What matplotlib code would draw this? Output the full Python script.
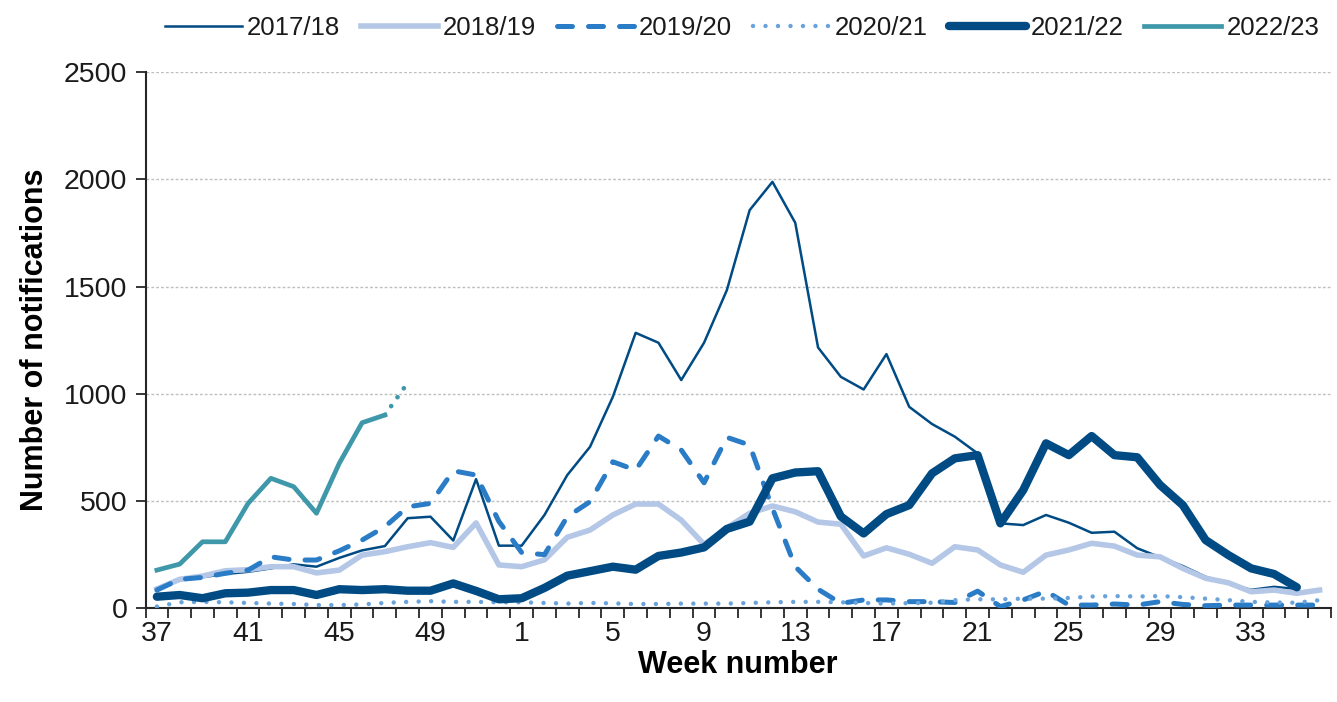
import numpy as np
import matplotlib
matplotlib.use("Agg")
import matplotlib.pyplot as plt

# week numbers of the season (week 37 to week 36)
weeks = list(range(37, 53)) + list(range(1, 37))

s2017 = [95, 130, 145, 160, 170, 186, 205, 194, 235, 270, 290, 420, 427, 316, 602, 292,
         292, 435, 621, 753, 986, 1284, 1238, 1064, 1238, 1483, 1856, 1988, 1797, 1216,
         1079, 1020, 1185, 939, 859, 800, 722, 396, 388, 435, 399, 352, 357, 280, 238,
         197, 147, 116, 86, 100, 90]
s2018 = [90, 135, 150, 175, 180, 194, 194, 165, 178, 248, 264, 287, 306, 284, 398, 202,
         194, 226, 331, 365, 435, 486, 486, 411, 298, 375, 443, 477, 450, 402, 392, 244,
         282, 252, 210, 287, 272, 202, 168, 248, 272, 303, 290, 248, 240, 186, 140, 119,
         77, 85, 70, 85]
s2019 = [85, 135, 144, 163, 178, 240, 225, 225, 268, 318, 380, 473, 489, 641, 621, 405,
         260, 250, 427, 497, 683, 644, 803, 738, 585, 797, 761, 466, 194, 89, 23, 39,
         39, 31, 31, 27, 80, 8, 39, 80, 15, 15, 20, 15, 31, 18, 12, 15, 15, 15, 15, 15]
s2020 = [8, 28, 30, 28, 25, 22, 20, 15, 15, 18, 25, 30, 33, 30, 30, 28,
         28, 25, 22, 25, 23, 20, 20, 22, 22, 22, 25, 28, 30, 30, 28, 25,
         22, 24, 26, 38, 42, 42, 45, 45, 48, 55, 57, 55, 57, 52, 45, 38,
         30, 27, 26, 38]
s2021 = [54, 62, 47, 70, 73, 85, 85, 62, 89, 85, 89, 82, 82, 116, 81, 42,
         47, 95, 152, 173, 194, 180, 244, 260, 284, 370, 404, 606, 633, 639, 428, 349,
         439, 481, 629, 699, 714, 396, 551, 769, 714, 803, 714, 704, 575, 481, 318, 248,
         186, 160, 98]
s2022 = [178, 206, 310, 310, 489, 606, 567, 443, 676, 865, 901]
s2022_prov = [901, 1051]  # weeks 47-48, incomplete data

navy = "#004B84"
font = ["Liberation Sans", "DejaVu Sans"]

fig = plt.figure(figsize=(13.37, 7.02), dpi=100)
ax = fig.add_axes([145.5 / 1337, 1 - 608.3 / 702, (1331 - 145.5) / 1337, (608.3 - 72) / 702])

x = np.arange(len(weeks))

ax.plot(x[:len(s2017)], s2017, color=navy, lw=1.8, label="2017/18", zorder=3)
ax.plot(x[:len(s2018)], s2018, color="#B4C7E7", lw=4.0, label="2018/19", zorder=3)
ax.plot(x[:len(s2019)], s2019, color="#2A7CC7", lw=3.6, dashes=(3.0, 3.2),
        dash_capstyle="round", label="2019/20", zorder=3)
ax.plot(x[:len(s2020)], s2020, color="#6AA3DB", lw=3.2, dashes=(0.01, 2.8),
        dash_capstyle="round", label="2020/21", zorder=3)
ax.plot(x[:len(s2021)], s2021, color=navy, lw=6.0, solid_capstyle="round",
        solid_joinstyle="round", label="2021/22", zorder=3)
ax.plot(x[:len(s2022)], s2022, color="#3F98AA", lw=3.4, label="2022/23", zorder=3)
ax.plot(x[len(s2022) - 1:len(s2022) + 1], s2022_prov, color="#3F98AA", lw=3.4,
        dashes=(0.01, 2.3), dash_capstyle="round", zorder=3)

ax.set_xlim(-0.5, len(weeks) - 0.5)
ax.set_ylim(0, 2500)
ax.set_yticks(np.arange(0, 2501, 500))
ax.yaxis.grid(True, color="#BFBFBF", lw=1.0, ls=(0, (2, 1.5)))
ax.set_axisbelow(True)

lab_pos = [i for i in x if i % 4 == 0 and i < 50]
ax.set_xticks(lab_pos)
ax.set_xticklabels([str(weeks[i]) for i in lab_pos])
ax.set_xticks(np.arange(-0.5, len(weeks)), minor=True)
ax.tick_params(axis="x", which="major", length=0, pad=9)
ax.tick_params(axis="x", which="minor", length=7, width=1.3, color="#262626")
ax.tick_params(axis="y", length=7, width=1.3, color="#262626", pad=6)

for spine in ["top", "right"]:
    ax.spines[spine].set_visible(False)
for spine in ["left", "bottom"]:
    ax.spines[spine].set_color("#262626")
    ax.spines[spine].set_linewidth(1.5)

for lbl in ax.get_xticklabels() + ax.get_yticklabels():
    lbl.set_family(font)
    lbl.set_fontsize(20.5)
    lbl.set_color("#1a1a1a")

ax.set_xlabel("Week number", family=font, fontweight="bold", fontsize=22, labelpad=2)
ax.set_ylabel("Number of notifications", family=font, fontweight="bold", fontsize=22,
              labelpad=10)

handles, labels = ax.get_legend_handles_labels()
leg = fig.legend(handles, labels, loc="center", bbox_to_anchor=(0.555, 0.96), ncol=6,
                 frameon=False, handlelength=3.0, handletextpad=0.2, columnspacing=0.8,
                 prop={"family": font, "size": 18.5})
for t in leg.get_texts():
    t.set_color("#1a1a1a")

fig.savefig("out.png", dpi=100)
